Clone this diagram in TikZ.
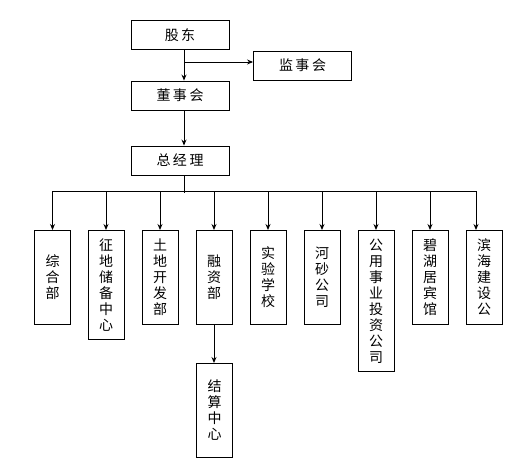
\documentclass[tikz,border=0pt]{standalone}
\usepackage{fontspec}
\newfontfamily\cjk{Noto Sans CJK SC}
\usetikzlibrary{arrows.meta}
\newcommand{\gp}{\hspace{2.5pt}}
\begin{document}
\begin{tikzpicture}[x=1pt,y=-1pt,
  box/.style={draw,line width=0.9pt,inner sep=0pt,align=center,
    font=\cjk\fontsize{14}{16}\selectfont},
  hbox/.style={box,minimum width=98,minimum height=29},
  vbox/.style={box,anchor=north,minimum width=36},
  conn/.style={line width=0.9pt},
  arr/.style={conn,-{Stealth[length=6pt,width=5pt]}}]
\useasboundingbox (0,0) rectangle (532,473);
\node[hbox] (gd) at (180,35) {股\gp 东};
\node[hbox] (jsh) at (302.5,65.5) {监\gp 事\gp 会};
\node[hbox] (dsh) at (180,95.5) {董\gp 事\gp 会};
\node[hbox] (zjl) at (180,160.5) {总\gp 经\gp 理};
\coordinate (tx) at (184,0);
\coordinate (b1) at (184,62);
\draw[arr] (gd.south -| tx) -- (dsh.north -| tx);
\draw[arr] (b1) -- (b1 -| jsh.west);
\draw[arr] (dsh.south -| tx) -- (zjl.north -| tx);
\node[vbox,minimum height=94] (c1) at (52.5,230) {综\\合\\部};
\node[vbox,minimum height=109] (c2) at (106,230) {征\\地\\储\\备\\中\\心};
\node[vbox,minimum height=94] (c3) at (160,230) {土\\地\\开\\发\\部};
\node[vbox,minimum height=94] (c4) at (214,230) {融\\资\\部};
\node[vbox,minimum height=94] (c5) at (268,230) {实\\验\\学\\校};
\node[vbox,minimum height=94] (c6) at (322,230) {河\\砂\\公\\司};
\node[vbox,minimum height=141] (c7) at (376,230) {公\\用\\事\\业\\投\\资\\公\\司};
\node[vbox,minimum height=94] (c8) at (430,230) {碧\\湖\\居\\宾\\馆};
\node[vbox,minimum height=94] (c9) at (484,230) {滨\\海\\建\\设\\公};
\node[vbox,minimum height=94] (js) at (214.5,363) {结\\算\\中\\心};
\coordinate (busL) at (52.5,191);
\coordinate (busR) at (476,191);
\coordinate (trunk) at (184,193);
\draw[conn] (zjl.south -| tx) -- (trunk);
\draw[conn] (busL) -- (busR);
\foreach \c in {c1,c2,c3,c4,c5,c6,c7,c8}
  \draw[arr] (busL -| \c.north) -- (\c.north);
\draw[arr] (busR) -- (busR |- c9.north);
\draw[arr] (c4.south) -- (c4.south |- js.north);
\end{tikzpicture}
\end{document}
